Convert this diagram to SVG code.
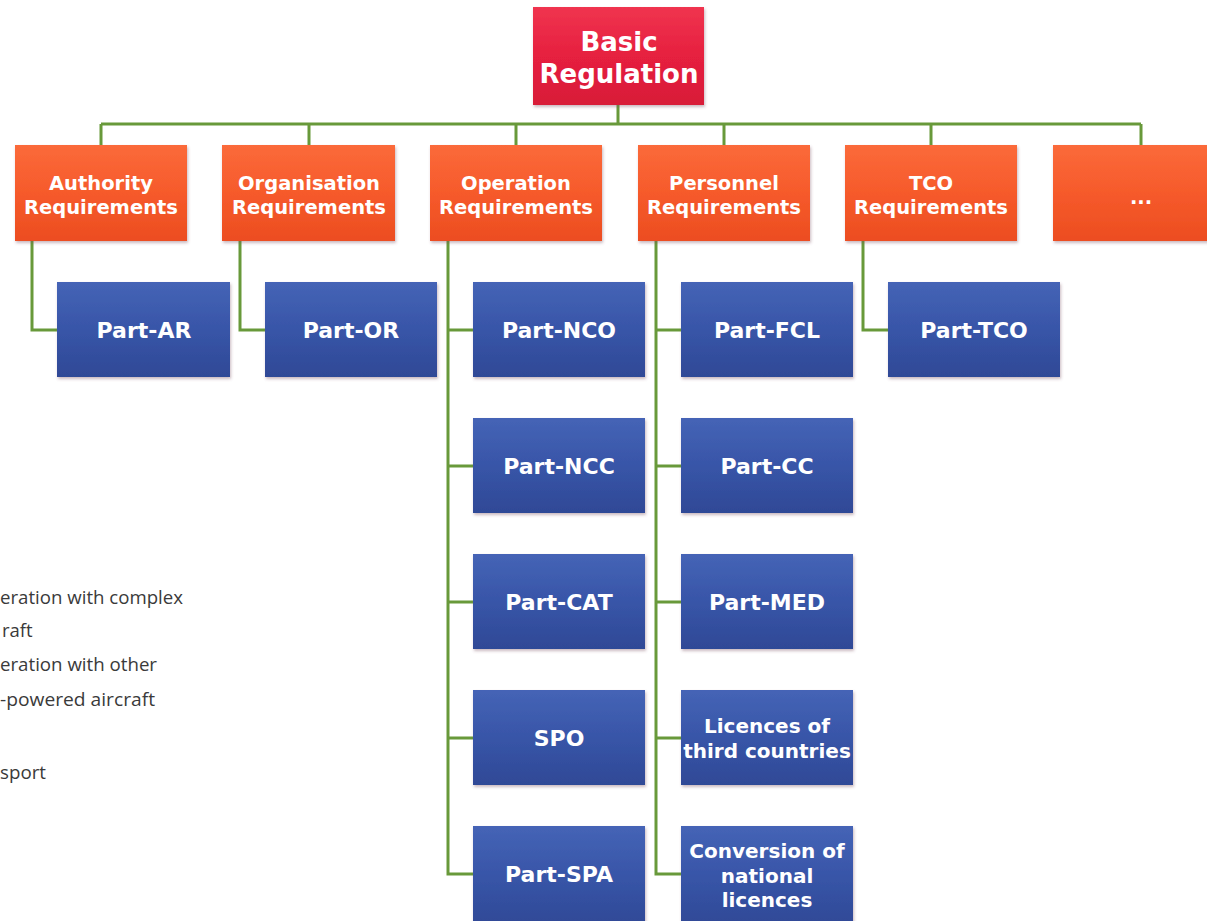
<svg xmlns="http://www.w3.org/2000/svg" width="1207" height="921" viewBox="0 0 1207 921">
<defs>
<linearGradient id="gRed" x1="0" y1="0" x2="0" y2="1"><stop offset="0" stop-color="#f0344f"/><stop offset="0.5" stop-color="#e6203f"/><stop offset="1" stop-color="#d81a38"/></linearGradient>
<linearGradient id="gOr" x1="0" y1="0" x2="0" y2="1"><stop offset="0" stop-color="#fb6a3a"/><stop offset="0.5" stop-color="#f65a2b"/><stop offset="1" stop-color="#ec4d20"/></linearGradient>
<linearGradient id="gBl" x1="0" y1="0" x2="0" y2="1"><stop offset="0" stop-color="#4564b6"/><stop offset="0.5" stop-color="#3855a8"/><stop offset="1" stop-color="#2f4996"/></linearGradient>
<filter id="sh" x="-10%" y="-10%" width="125%" height="130%"><feDropShadow dx="1" dy="2" stdDeviation="1.5" flood-color="#7a5060" flood-opacity="0.4"/></filter>
</defs>
<style>
.red{fill:url(#gRed);filter:url(#sh)}
.or{fill:url(#gOr);filter:url(#sh)}
.bl{fill:url(#gBl);filter:url(#sh)}
.t{font-family:"DejaVu Sans",Verdana,sans-serif;font-weight:bold;fill:#ffffff;text-anchor:middle}
.t26{font-size:26px}
.t19{font-size:19.5px}
.t22{font-size:22px}
.t20{font-size:20px}
.c{fill:none;stroke:#68993a;stroke-width:3}
.side{font-family:"Open Sans","Liberation Sans",sans-serif;font-size:18.5px;fill:#3a3a3a}
</style>
<rect width="1207" height="921" fill="#ffffff"/>
<g id="connectors">
<path class="c" d="M618 105V124M101 124H1141M101 124V145M309 124V145M516 124V145M724 124V145M931 124V145M1141 124V145"/>
<path class="c" d="M32 241V330H57M240 241V330H265M863 241V330H888"/>
<path class="c" d="M448 241V874H473M448 330H473M448 466H473M448 602H473M448 738H473"/>
<path class="c" d="M656 241V874H681M656 330H681M656 466H681M656 602H681M656 738H681"/>
</g>
<g id="basic-regulation"><rect class="red" x="533" y="7" width="171" height="98"/><text class="t t26" x="619" y="51">Basic</text><text class="t t26" x="619" y="83">Regulation</text></g>
<g id="authority-req"><rect class="or" x="15" y="145" width="172" height="96"/><text class="t t19" x="101" y="190">Authority</text><text class="t t19" x="101" y="214">Requirements</text></g>
<g id="organisation-req"><rect class="or" x="222" y="145" width="173" height="96"/><text class="t t19" x="309" y="190">Organisation</text><text class="t t19" x="309" y="214">Requirements</text></g>
<g id="operation-req"><rect class="or" x="430" y="145" width="172" height="96"/><text class="t t19" x="516" y="190">Operation</text><text class="t t19" x="516" y="214">Requirements</text></g>
<g id="personnel-req"><rect class="or" x="638" y="145" width="172" height="96"/><text class="t t19" x="724" y="190">Personnel</text><text class="t t19" x="724" y="214">Requirements</text></g>
<g id="tco-req"><rect class="or" x="845" y="145" width="172" height="96"/><text class="t t19" x="931" y="190">TCO</text><text class="t t19" x="931" y="214">Requirements</text></g>
<g id="more"><rect class="or" x="1053" y="145" width="180" height="96"/><text class="t t19" x="1141" y="204">...</text></g>
<g id="part-ar"><rect class="bl" x="57" y="282" width="173" height="95"/><text class="t t22" x="144" y="338">Part-AR</text></g>
<g id="part-or"><rect class="bl" x="265" y="282" width="172" height="95"/><text class="t t22" x="351" y="338">Part-OR</text></g>
<g id="part-nco"><rect class="bl" x="473" y="282" width="172" height="95"/><text class="t t22" x="559" y="338">Part-NCO</text></g>
<g id="part-ncc"><rect class="bl" x="473" y="418" width="172" height="95"/><text class="t t22" x="559" y="474">Part-NCC</text></g>
<g id="part-cat"><rect class="bl" x="473" y="554" width="172" height="95"/><text class="t t22" x="559" y="610">Part-CAT</text></g>
<g id="spo"><rect class="bl" x="473" y="690" width="172" height="95"/><text class="t t22" x="559" y="746">SPO</text></g>
<g id="part-spa"><rect class="bl" x="473" y="826" width="172" height="100"/><text class="t t22" x="559" y="882">Part-SPA</text></g>
<g id="part-fcl"><rect class="bl" x="681" y="282" width="172" height="95"/><text class="t t22" x="767" y="338">Part-FCL</text></g>
<g id="part-cc"><rect class="bl" x="681" y="418" width="172" height="95"/><text class="t t22" x="767" y="474">Part-CC</text></g>
<g id="part-med"><rect class="bl" x="681" y="554" width="172" height="95"/><text class="t t22" x="767" y="610">Part-MED</text></g>
<g id="licences-third"><rect class="bl" x="681" y="690" width="172" height="95"/><text class="t t20" x="767" y="733">Licences of</text><text class="t t20" x="767" y="758">third countries</text></g>
<g id="conversion"><rect class="bl" x="681" y="826" width="172" height="100"/><text class="t t20" x="767" y="858">Conversion of</text><text class="t t20" x="767" y="883">national</text><text class="t t20" x="767" y="907">licences</text></g>
<g id="part-tco"><rect class="bl" x="888" y="282" width="172" height="95"/><text class="t t22" x="974" y="338">Part-TCO</text></g>
<g id="side-text">
<text class="side" x="0" y="604" textLength="183" lengthAdjust="spacingAndGlyphs">eration with complex</text>
<text class="side" x="2" y="637">raft</text>
<text class="side" x="0" y="671" textLength="157" lengthAdjust="spacingAndGlyphs">eration with other</text>
<text class="side" x="0" y="706" textLength="155" lengthAdjust="spacingAndGlyphs">-powered aircraft</text>
<text class="side" x="0" y="779" textLength="46" lengthAdjust="spacingAndGlyphs">sport</text>
</g>
</svg>
